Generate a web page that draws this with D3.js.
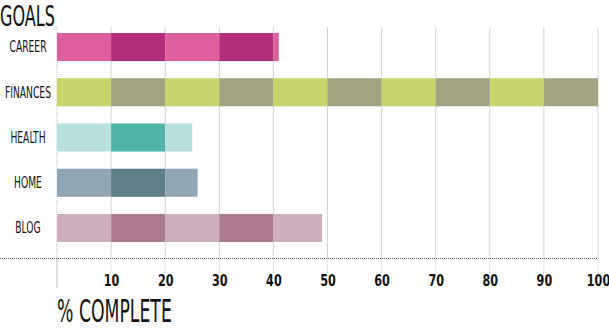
<!DOCTYPE html>
<html>
<head>
<meta charset="utf-8">
<script src="https://cdn.jsdelivr.net/npm/d3@7"></script>
<style>
  body { margin: 0; background: #fff; }
  text { font-family: "DejaVu Sans Condensed", "DejaVu Sans", sans-serif; }
</style>
</head>
<body>
<script>
  var goals = ['CAREER', 'FINANCES', 'HEALTH', 'HOME', 'BLOG'];
  var percent = [41, 100, 25, 26, 49];
  var lightColors = ['#dd609e', '#c8d36b', '#b7e0df', '#91a6b4', '#cdaebc'];
  var darkColors = ['#b02e7a', '#a2a47f', '#50b4a8', '#5f7f88', '#ab7990'];
  var ticks = [10, 20, 30, 40, 50, 60, 70, 80, 90, 100];

  var w = 609;
  var h = 331;

  var svg = d3
    .select('body')
    .append('svg')
    .attr('width', w)
    .attr('height', h);

  var xScale = d3.scaleLinear().domain([0, 100]).range([57, 598]);

  var yScale = d3
    .scaleBand()
    .domain(goals)
    .range([33, 242])
    .paddingInner(0.38)
    .paddingOuter(0);

  // grid lines, solid above the baseline and dotted below
  svg
    .append('g')
    .selectAll('line')
    .data(ticks)
    .enter()
    .append('line')
    .attr('x1', d => xScale(d))
    .attr('x2', d => xScale(d))
    .attr('y1', 27)
    .attr('y2', 258)
    .attr('stroke', '#d4d4d4')
    .attr('stroke-width', 1);

  svg
    .append('g')
    .selectAll('line')
    .data(ticks)
    .enter()
    .append('line')
    .attr('x1', d => xScale(d))
    .attr('x2', d => xScale(d))
    .attr('y1', 258)
    .attr('y2', 274)
    .attr('stroke', '#c8c8c8')
    .attr('stroke-dasharray', '1,1');

  // left axis line
  svg
    .append('line')
    .attr('x1', xScale(0))
    .attr('x2', xScale(0))
    .attr('y1', 26)
    .attr('y2', 258)
    .attr('stroke', '#b8b8b8')
    .attr('stroke-dasharray', '1,1');

  svg
    .append('line')
    .attr('x1', xScale(0))
    .attr('x2', xScale(0))
    .attr('y1', 258)
    .attr('y2', 288)
    .attr('stroke', '#d0d0d0')
    .attr('stroke-width', 1.5);

  // bars split into 10 % segments
  var segments = [];
  goals.forEach(function(g, i) {
    for (var s = 0; s < percent[i]; s += 10) {
      segments.push({
        goal: g,
        start: s,
        end: Math.min(s + 10, percent[i]),
        color: (s / 10) % 2 === 0 ? lightColors[i] : darkColors[i]
      });
    }
  });

  svg
    .append('g')
    .selectAll('rect')
    .data(segments)
    .enter()
    .append('rect')
    .attr('x', d => xScale(d.start))
    .attr('y', d => yScale(d.goal))
    .attr('width', d => xScale(d.end) - xScale(d.start))
    .attr('height', yScale.bandwidth())
    .attr('fill', d => d.color);

  // baseline
  svg
    .append('line')
    .attr('x1', 0)
    .attr('x2', xScale(100))
    .attr('y1', 258.5)
    .attr('y2', 258.5)
    .attr('stroke', '#555')
    .attr('stroke-dasharray', '1,1');

  // x tick labels
  var xAxis = d3.axisBottom(xScale).tickValues(ticks).tickSize(0).tickPadding(0);

  var xg = svg
    .append('g')
    .attr('transform', 'translate(0, 274)')
    .call(xAxis);
  xg.select('.domain').remove();
  xg.selectAll('text')
    .attr('font-family', '"DejaVu Sans Condensed", sans-serif')
    .attr('font-weight', 'bold')
    .attr('font-size', 16)
    .attr('fill', '#111')
    .attr('dy', '0.72em')
    .attr('transform', 'scale(0.78, 1)');

  // category labels
  svg
    .append('g')
    .selectAll('text')
    .data(goals)
    .enter()
    .append('text')
    .attr('y', d => yScale(d) + yScale.bandwidth() / 2)
    .attr('dy', '0.36em')
    .attr('text-anchor', 'middle')
    .attr('font-size', 15)
    .attr('fill', '#111')
    .attr('transform', 'translate(28, 0) scale(0.68, 1)')
    .text(d => d);

  svg
    .append('text')
    .attr('x', 0)
    .attr('y', 25.5)
    .attr('font-size', 27.5)
    .attr('fill', '#111')
    .attr('transform', 'scale(0.65, 1)')
    .text('GOALS');

  svg
    .append('text')
    .attr('x', 0)
    .attr('y', 322)
    .attr('font-size', 32)
    .attr('fill', '#111')
    .attr('transform', 'translate(57, 0) scale(0.6, 1)')
    .text('% COMPLETE');
</script>
</body>
</html>
